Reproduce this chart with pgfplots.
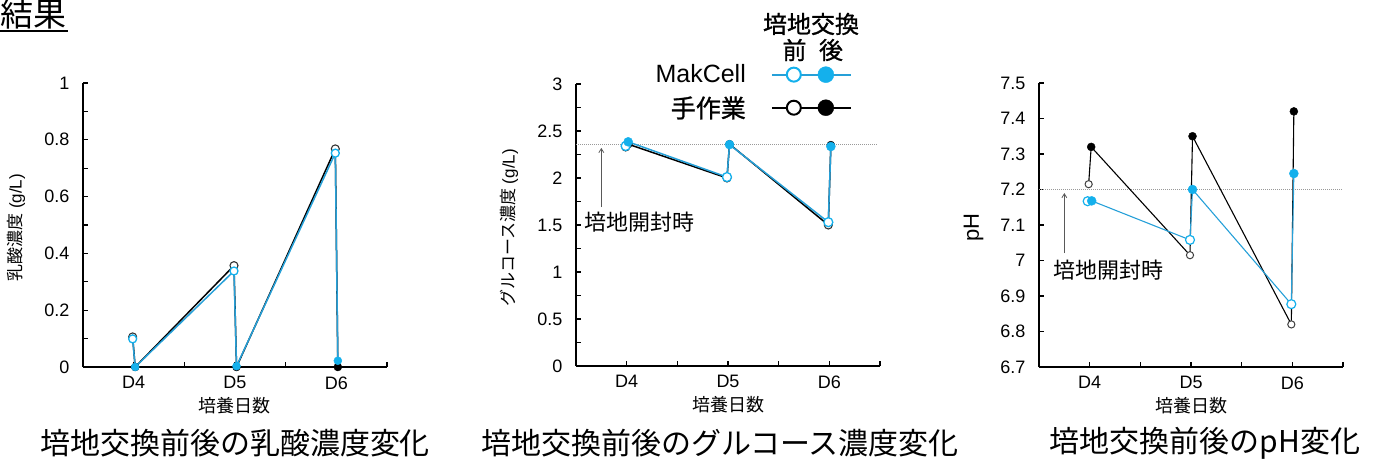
\documentclass[border=0pt]{standalone}
\usepackage{fontspec}
\setmainfont{Liberation Sans}
\newfontfamily\cjk{Noto Sans CJK JP}
\newfontfamily\cjkm[FakeBold=1]{Noto Sans CJK JP}
\usepackage{pgfplots}
\pgfplotsset{compat=1.18}
\usetikzlibrary{arrows.meta}
\definecolor{mcfill}{RGB}{20,176,236}
\definecolor{mcline}{RGB}{38,160,216}
\pgfplotsset{
 base/.style={
  scale only axis, width=304pt, height=284pt,
  axis lines=left, axis line style={-, line width=1.6pt},
  xmin=0.5, xmax=3.5,
  xtick={1,2,3}, xticklabels={D4,D5,D6},
  minor xtick={1.5,2.5,3.5},
  tick align=inside,
  major tick length=5pt, minor tick length=5pt,
  tick style={line width=1.3pt, black},
  /pgf/number format/assume math mode=true,
  tick label style={font=\fontsize{18}{20}\selectfont},
  yticklabel style={xshift=-10pt},
  xticklabel style={yshift=-6pt},
  xlabel={\cjk 培養日数},
  xlabel style={at={(axis description cs:0.5,-0.137)}, anchor=center, font=\fontsize{18}{20}\selectfont},
  ylabel style={at={(axis description cs:-0.22,0.49)}, anchor=center, font=\fontsize{17}{19}\selectfont},
  clip=false,
 },
 openm/.style={only marks, mark=*, mark size=#1, forget plot},
 filledm/.style={only marks, mark=*, mark size=#1, forget plot},
}
\begin{document}
\begin{tikzpicture}[x=1pt,y=1pt]
\useasboundingbox (0,0) rectangle (1376,459);
% header
\node[anchor=base west, inner sep=0pt, font=\cjk\fontsize{33}{36}\selectfont] at (0,432) {結果};
\draw[line width=2pt] (0,428) -- (68,428);

% ---------- chart 1: lactate
\begin{axis}[base, at={(83pt,92pt)}, anchor=south west,
  ymin=0, ymax=1,
  ytick={0,0.2,0.4,0.6,0.8,1}, minor ytick={0.1,0.3,0.5,0.7,0.9},
  ylabel={{\cjk 乳酸濃度} (g/L)}]
\addplot[black, line width=1.5pt, forget plot] coordinates {(0.99,0.106) (1.015,0) (1.99,0.357) (2.015,0) (2.99,0.768) (3.015,0)};
\addplot[openm=4pt, mark options={draw=black!80, fill=white, line width=1.1pt}] coordinates {(0.99,0.106) (1.99,0.357) (2.99,0.768)};
\addplot[filledm=4pt, black] coordinates {(1.015,0) (2.015,0) (3.015,0)};
\addplot[mcline, line width=1.5pt, forget plot] coordinates {(0.99,0.099) (1.015,0) (1.99,0.338) (2.015,0.003) (2.99,0.753) (3.015,0.022)};
\addplot[openm=4pt, mark options={draw=mcfill, fill=white, line width=1.3pt}] coordinates {(0.99,0.099) (1.99,0.338) (2.99,0.753)};
\addplot[filledm=4pt, mcfill] coordinates {(1.015,0) (2.015,0.003) (3.015,0.022)};
\end{axis}

% ---------- chart 2: glucose
\begin{axis}[base, at={(576pt,93pt)}, anchor=south west, height=282pt,
  ymin=0, ymax=3,
  ytick={0,0.5,1,1.5,2,2.5,3}, minor ytick={0.25,0.75,1.25,1.75,2.25,2.75},
  ylabel={{\cjk グルコース濃度} (g/L)},
  legend plot pos=right, legend cell align=right,
  legend style={draw=none, fill=none, at={(axis description cs:0.908,0.972)}, anchor=east,
    inner sep=0pt, row sep=8pt, column sep=23pt, font=\fontsize{25}{28}\selectfont}]
\addplot[gray!80, dash pattern=on 1pt off 1pt, line width=0.8pt, forget plot] coordinates {(0.5,2.355) (3.47,2.355)};
\draw[-{Straight Barb[length=4pt,width=5pt]}, gray!70!black, line width=0.8pt] (axis cs:0.75,1.69) -- (axis cs:0.75,2.32);
\node[anchor=west, inner sep=0pt, font=\cjk\fontsize{22}{24}\selectfont] at (axis cs:0.58,1.53) {培地開封時};
\addplot[black, line width=1.5pt, forget plot] coordinates {(0.99,2.33) (1.015,2.36) (1.99,2.00) (2.015,2.36) (2.99,1.50) (3.015,2.35)};
\addplot[openm=4pt, mark options={draw=black!80, fill=white, line width=1.1pt}] coordinates {(0.99,2.33) (1.99,2.00) (2.99,1.50)};
\addplot[filledm=4pt, black] coordinates {(1.015,2.36) (2.015,2.36) (3.015,2.35)};
\addplot[mcline, line width=1.5pt, forget plot] coordinates {(0.99,2.34) (1.015,2.385) (1.99,2.01) (2.015,2.355) (2.99,1.53) (3.015,2.335)};
\addplot[openm=4.5pt, mark options={draw=mcfill, fill=white, line width=1.3pt}] coordinates {(0.99,2.34) (1.99,2.01) (2.99,1.53)};
\addplot[filledm=4.5pt, mcfill] coordinates {(1.015,2.385) (2.015,2.355) (3.015,2.335)};
\addlegendimage{legend image code/.code={
  \draw[mcline, line width=2pt] (0pt,0pt) -- (79pt,0pt);
  \draw[mcfill, line width=2pt, fill=white] (22pt,0pt) circle (7pt);
  \fill[mcfill] (54pt,0pt) circle (8pt);}}
\addlegendentry{MakCell}
\addlegendimage{legend image code/.code={
  \draw[black, line width=2pt] (0pt,0pt) -- (79pt,0pt);
  \draw[black, line width=2pt, fill=white] (22pt,0pt) circle (7pt);
  \fill[black] (54pt,0pt) circle (8pt);}}
\addlegendentry{\cjkm 手作業}
\end{axis}

% ---------- chart 3: pH
\begin{axis}[base, at={(1039pt,92pt)}, anchor=south west,
  ymin=6.7, ymax=7.5,
  ytick={6.7,6.8,6.9,7,7.1,7.2,7.3,7.4,7.5},
  xtick={1,2,3}, minor xtick={1.5,2.5,3.5},
  ylabel={pH}, ylabel style={font=\fontsize{22}{24}\selectfont, at={(axis description cs:-0.215,0.49)}},
  axis line style={line width=1.4pt}]
\addplot[gray!80, dash pattern=on 1pt off 1pt, line width=0.8pt, forget plot] coordinates {(0.5,7.2) (3.49,7.2)};
\draw[-{Straight Barb[length=4pt,width=5pt]}, gray!70!black, line width=0.8pt] (axis cs:0.75,7.021) -- (axis cs:0.75,7.19);
\node[anchor=west, inner sep=0pt, font=\cjk\fontsize{22}{24}\selectfont] at (axis cs:0.64,6.973) {培地開封時};
\addplot[black, line width=1.1pt, forget plot] coordinates {(0.99,7.215) (1.015,7.32) (1.99,7.015) (2.015,7.35) (2.99,6.82) (3.015,7.42)};
\addplot[openm=3.6pt, mark options={draw=black!75, fill=white, line width=1pt}] coordinates {(0.99,7.215) (1.99,7.015) (2.99,6.82)};
\addplot[filledm=4pt, black] coordinates {(1.015,7.32) (2.015,7.35) (3.015,7.42)};
\addplot[mcline, line width=1.1pt, forget plot] coordinates {(0.98,7.167) (1.02,7.168) (1.99,7.058) (2.015,7.20) (2.99,6.877) (3.015,7.245)};
\addplot[openm=4.5pt, mark options={draw=mcfill, fill=white, line width=1.2pt}] coordinates {(0.98,7.167) (1.99,7.058) (2.99,6.877)};
\addplot[filledm=4.5pt, mcfill] coordinates {(1.02,7.168) (2.015,7.20) (3.015,7.245)};
\end{axis}

% legend header
\node[font=\cjkm\fontsize{24}{26}\selectfont] at (811,435) {培地交換};
\node[font=\cjkm\fontsize{24}{26}\selectfont] at (794.5,409) {前};
\node[font=\cjkm\fontsize{24}{26}\selectfont] at (831,409) {後};

% titles
\node[font=\cjk\fontsize{30}{34}\selectfont] at (235,16) {培地交換前後の乳酸濃度変化};
\node[font=\cjk\fontsize{30}{34}\selectfont] at (720,16) {培地交換前後のグルコース濃度変化};
\node[font=\cjk\fontsize{30}{34}\selectfont] at (1205,16) {培地交換前後のpH変化};
\end{tikzpicture}
\end{document}
